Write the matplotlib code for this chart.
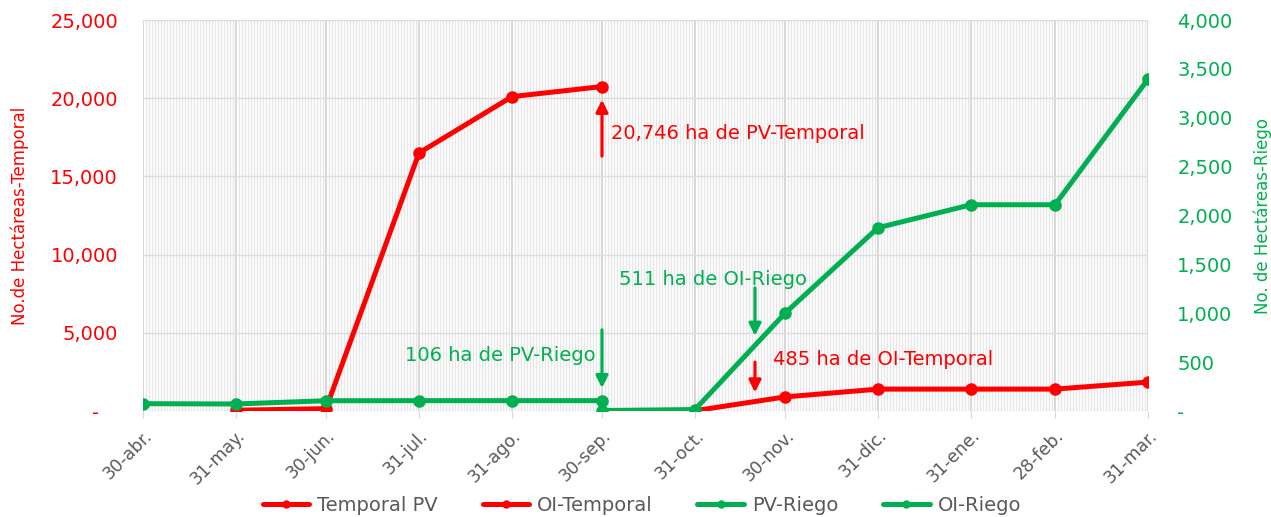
import matplotlib
matplotlib.use("Agg")
import matplotlib.pyplot as plt
import matplotlib.dates as mdates
import pandas as pd
from matplotlib.ticker import FuncFormatter, MultipleLocator, FixedLocator

plt.rcParams['font.family'] = ['DejaVu Sans']

# ---- data ----
tick_dates = ["2020-04-30", "2020-05-31", "2020-06-30", "2020-07-31", "2020-08-31", "2020-09-30",
              "2020-10-31", "2020-11-30", "2020-12-31", "2021-01-31", "2021-02-28", "2021-03-31"]
tick_labels = ["30-abr.", "31-may.", "30-jun.", "31-jul.", "31-ago.", "30-sep.",
               "31-oct.", "30-nov.", "31-dic.", "31-ene.", "28-feb.", "31-mar."]

temporal_pv_dates = ["2020-05-31", "2020-06-30", "2020-07-31", "2020-08-31", "2020-09-30"]
temporal_pv = [50, 150, 16500, 20100, 20746]

oi_temporal_dates = ["2020-10-31", "2020-11-30", "2020-12-31", "2021-01-31", "2021-02-28", "2021-03-31"]
oi_temporal = [20, 900, 1400, 1400, 1400, 1850]

pv_riego_dates = ["2020-04-30", "2020-05-31", "2020-06-30", "2020-07-31", "2020-08-31", "2020-09-30"]
pv_riego = [75, 72, 105, 106, 106, 106]

oi_riego_dates = ["2020-09-30", "2020-10-31", "2020-11-30", "2020-12-31", "2021-01-31", "2021-02-28", "2021-03-31"]
oi_riego = [5, 15, 1000, 1875, 2110, 2110, 3395]

RED = "#FF0000"
GREEN = "#00B050"
GREY = "#595959"

d = lambda lst: pd.to_datetime(lst)

fig = plt.figure(figsize=(12.71, 5.17), dpi=100)
ax = fig.add_axes([0.1125, 0.205, 0.7907, 0.7563])
ax2 = ax.twinx()

# background grid
ax.set_xlim(d(["2020-04-30"])[0], d(["2021-03-31"])[0])
ax.xaxis.set_major_locator(FixedLocator(mdates.date2num(d(tick_dates))))
ax.set_xticklabels(tick_labels, rotation=45, ha='right', rotation_mode='anchor', color=GREY, fontsize=12.5)
ax.xaxis.set_minor_locator(mdates.DayLocator())
ax.grid(which='minor', axis='x', color='#E6E6E6', linewidth=0.9)
ax.grid(which='major', axis='x', color='#D4D4D4', linewidth=1.3)
ax.grid(which='major', axis='y', color='#DDDDDD', linewidth=1.0)
ax.set_axisbelow(True)
ax.tick_params(axis='x', which='major', length=5, color='#D9D9D9', pad=6)
ax.tick_params(axis='x', which='minor', length=0)

ax.set_ylim(0, 25000)
ax.yaxis.set_major_locator(MultipleLocator(5000))
fmt_left = FuncFormatter(lambda v, p: '-   ' if v == 0 else f"{int(v):,}")
fmt_right = FuncFormatter(lambda v, p: '-' if v == 0 else f"{int(v):,}")
ax.yaxis.set_major_formatter(fmt_left)
ax.tick_params(axis='y', length=0, colors=RED, labelsize=14, pad=18)
ax.set_ylabel("No.de Hectáreas-Temporal", color=RED, fontsize=12, labelpad=15)

ax2.set_ylim(0, 4000)
ax2.yaxis.set_major_locator(MultipleLocator(500))
ax2.yaxis.set_major_formatter(fmt_right)
ax2.tick_params(axis='y', length=0, colors=GREEN, labelsize=14, pad=21)
ax2.set_ylabel("No. de Hectáreas-Riego", color=GREEN, fontsize=12, labelpad=15)

for a in (ax, ax2):
    for s in a.spines.values():
        s.set_visible(False)

lkw = dict(linewidth=3.6, marker='o', markersize=8, solid_capstyle='round')
l1, = ax.plot(d(temporal_pv_dates), temporal_pv, color=RED, label="Temporal PV", **lkw)
l2, = ax.plot(d(oi_temporal_dates), oi_temporal, color=RED, label="OI-Temporal", **lkw)
l3, = ax2.plot(d(pv_riego_dates), pv_riego, color=GREEN, label="PV-Riego", **lkw)
l4, = ax2.plot(d(oi_riego_dates), oi_riego, color=GREEN, label="OI-Riego", **lkw)

# annotations
arr = lambda c: dict(arrowstyle='-|>', color=c, lw=2.3, mutation_scale=18, shrinkA=0, shrinkB=0)
sep30 = d(["2020-09-30"])[0]
ax.annotate('', xy=(sep30, 19900), xytext=(sep30, 16300), arrowprops=arr(RED))
ax.text(d(["2020-10-03"])[0], 17750, "20,746 ha de PV-Temporal", color=RED, fontsize=14, va='center', ha='left')

ax2.annotate('', xy=(sep30, 235), xytext=(sep30, 830), arrowprops=arr(GREEN))
ax2.text(d(["2020-09-28"])[0], 570, "106 ha de PV-Riego", color=GREEN, fontsize=14, va='center', ha='right')

nov20 = d(["2020-11-20"])[0]
ax2.annotate('', xy=(nov20, 770), xytext=(nov20, 1260), arrowprops=arr(GREEN))
ax2.text(d(["2020-11-06"])[0], 1350, "511 ha de OI-Riego", color=GREEN, fontsize=14, va='center', ha='center')

ax2.annotate('', xy=(nov20, 190), xytext=(nov20, 500), arrowprops=arr(RED))
ax2.text(d(["2020-11-26"])[0], 525, "485 ha de OI-Temporal", color=RED, fontsize=14, va='center', ha='left')

leg = fig.legend(handles=[l1, l2, l3, l4], loc='center', bbox_to_anchor=(0.505, 0.022), ncol=4,
                 frameon=False, fontsize=14, handlelength=2.4, columnspacing=2.3, handletextpad=0.4)
for t in leg.get_texts():
    t.set_color(GREY)
for h in leg.legend_handles:
    h.set_markersize(5)

fig.savefig("out.png", dpi=100)
